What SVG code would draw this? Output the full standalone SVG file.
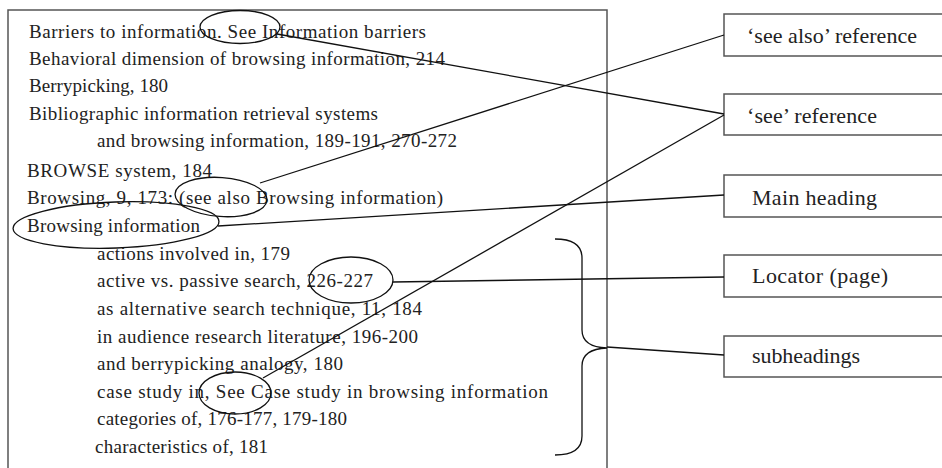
<svg xmlns="http://www.w3.org/2000/svg" width="942" height="468" viewBox="0 0 942 468">
<style>
.t{font-family:"Liberation Serif","DejaVu Serif",serif;font-size:19px;fill:#222}
.r{font-family:"Liberation Serif","DejaVu Serif",serif;font-size:22px;fill:#222}
.box{fill:#fff;stroke:#555;stroke-width:1.5}
.c{fill:none;stroke:#111;stroke-width:1.3}
</style>
<rect width="942" height="468" fill="#fff"/>
<g id="index">
<path d="M8,468 V10 H607 V468" fill="none" stroke="#555" stroke-width="1.5"/>
<text class="t" x="29" y="38" textLength="397" lengthAdjust="spacing">Barriers to information. See Information barriers</text>
<text class="t" x="29" y="65" textLength="416" lengthAdjust="spacing">Behavioral dimension of browsing information, 214</text>
<text class="t" x="29" y="92" textLength="139" lengthAdjust="spacing">Berrypicking, 180</text>
<text class="t" x="29" y="120" textLength="349" lengthAdjust="spacing">Bibliographic information retrieval systems</text>
<text class="t" x="97" y="147" textLength="360" lengthAdjust="spacing">and browsing information, 189-191, 270-272</text>
<text class="t" x="27" y="177" textLength="185" lengthAdjust="spacing">BROWSE system, 184</text>
<text class="t" x="27" y="204" textLength="416" lengthAdjust="spacing">Browsing, 9, 173: (see also Browsing information)</text>
<text class="t" x="27" y="232" textLength="173" lengthAdjust="spacing">Browsing information</text>
<text class="t" x="97" y="260" textLength="193" lengthAdjust="spacing">actions involved in, 179</text>
<text class="t" x="97" y="287" textLength="276" lengthAdjust="spacing">active vs. passive search, 226-227</text>
<text class="t" x="97" y="315" textLength="325" lengthAdjust="spacing">as alternative search technique, 11, 184</text>
<text class="t" x="97" y="343" textLength="321" lengthAdjust="spacing">in audience research literature, 196-200</text>
<text class="t" x="97" y="370" textLength="246" lengthAdjust="spacing">and berrypicking analogy, 180</text>
<text class="t" x="97" y="398" textLength="451" lengthAdjust="spacing">case study in, See Case study in browsing information</text>
<text class="t" x="97" y="425" textLength="250" lengthAdjust="spacing">categories of, 176-177, 179-180</text>
<text class="t" x="95" y="453" textLength="173" lengthAdjust="spacing">characteristics of, 181</text>
</g>
<g id="label-see-also">
<rect class="box" x="724" y="14" width="230" height="42"/>
<text class="r" x="747" y="43" textLength="170" lengthAdjust="spacing">‘see also’ reference</text>
</g>
<g id="label-see">
<rect class="box" x="724" y="94" width="230" height="41"/>
<text class="r" x="747" y="123" textLength="130" lengthAdjust="spacing">‘see’ reference</text>
</g>
<g id="label-main">
<rect class="box" x="724" y="175" width="230" height="42"/>
<text class="r" x="752" y="205" textLength="125" lengthAdjust="spacing">Main heading</text>
</g>
<g id="label-locator">
<rect class="box" x="724" y="255" width="230" height="42"/>
<text class="r" x="752" y="283" textLength="136" lengthAdjust="spacing">Locator (page)</text>
</g>
<g id="label-sub">
<rect class="box" x="724" y="336" width="230" height="41"/>
<text class="r" x="752" y="363" textLength="108" lengthAdjust="spacing">subheadings</text>
</g>
<g id="connectors">
<ellipse class="c" cx="240" cy="27" rx="40" ry="16.5"/>
<ellipse class="c" cx="221" cy="197" rx="46" ry="19.5" transform="rotate(4 221 197)"/>
<ellipse class="c" cx="116" cy="225" rx="103" ry="23" transform="rotate(-2 116 225)"/>
<ellipse class="c" cx="351" cy="280" rx="42" ry="23"/>
<ellipse class="c" cx="235" cy="393" rx="36" ry="21"/>
<path class="c" d="M277,34 L724,114"/>
<path class="c" d="M260,183 L724,35"/>
<path class="c" d="M218,226 L724,195"/>
<path class="c" d="M393,282 L724,277"/>
<path class="c" d="M263,378 L724,115"/>
<path class="c" d="M555,239 Q582,239 582,258 L582,330 Q582,347 607,348 Q582,349 582,366 L582,436 Q582,455 555,455"/>
<path class="c" d="M607,347 L724,355"/>
</g>
</svg>
